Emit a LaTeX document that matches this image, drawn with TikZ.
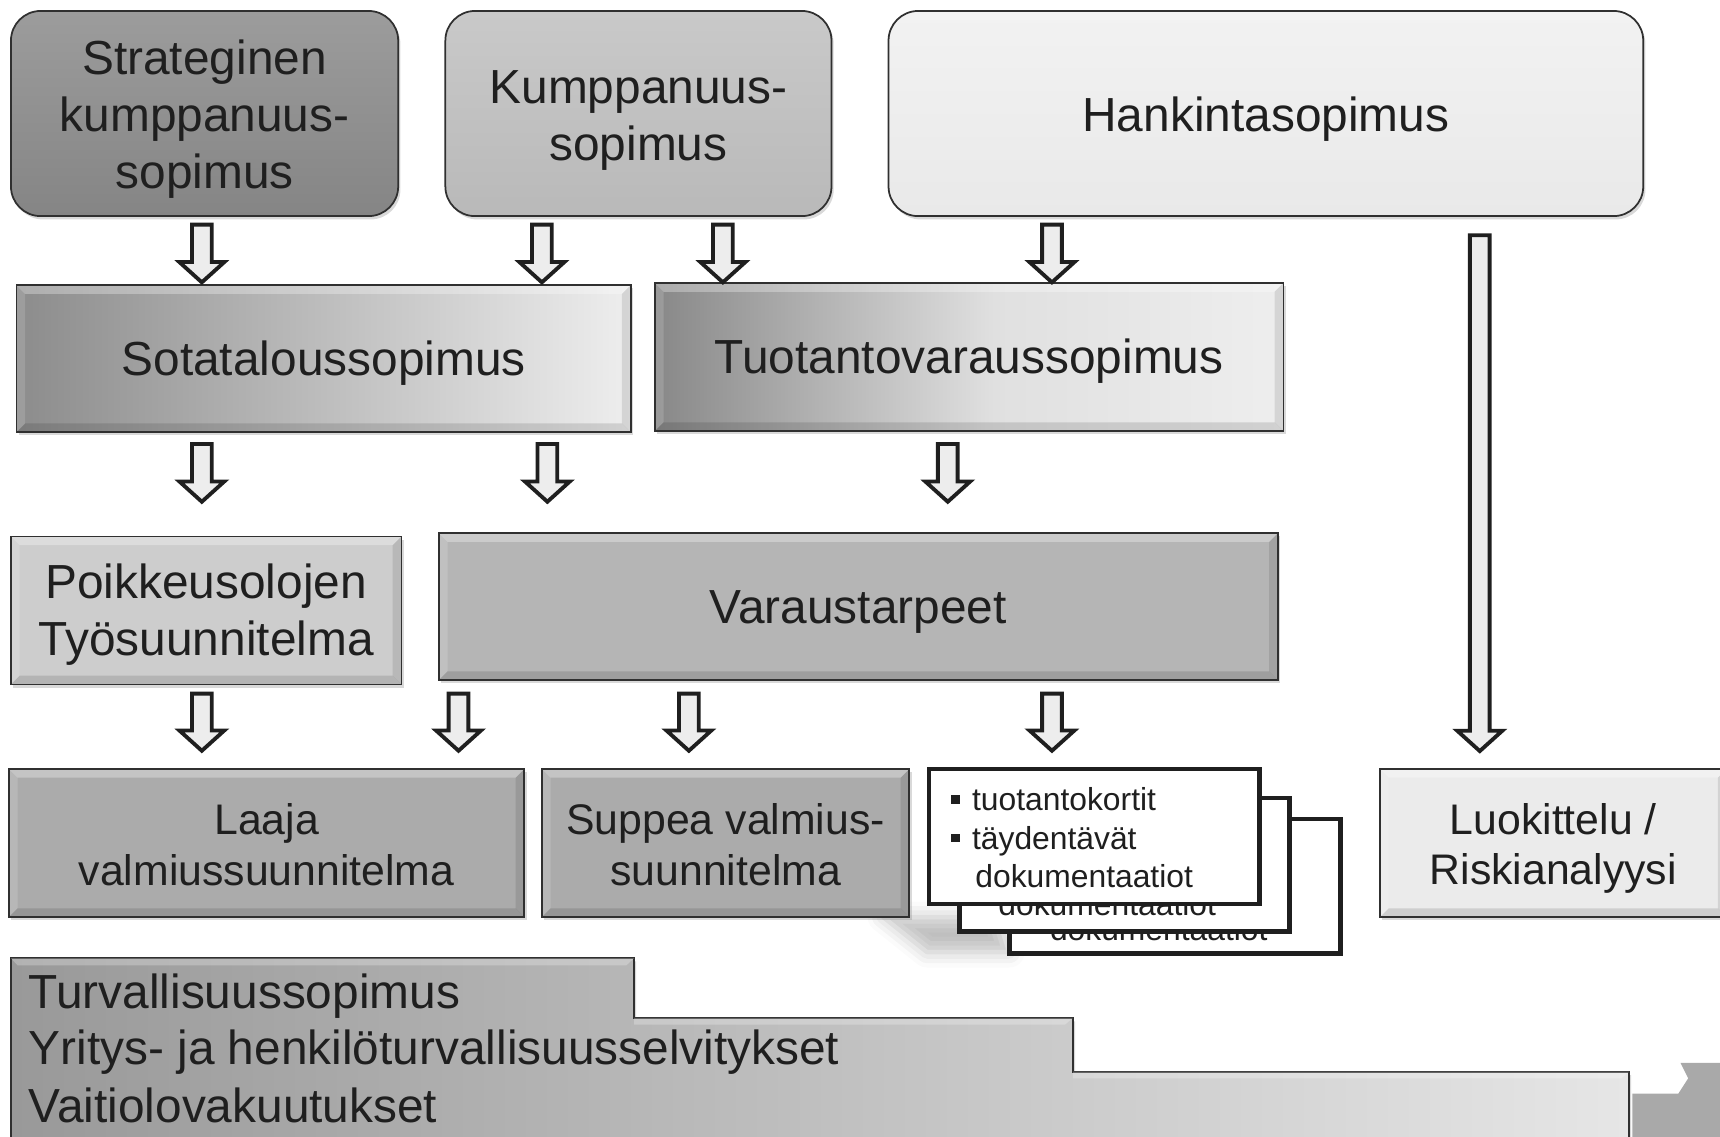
\documentclass[tikz,border=0pt]{standalone}
\usepackage{fontspec}
\setmainfont{Liberation Sans}
\usetikzlibrary{shadows,shadows.blur}
\definecolor{ink}{HTML}{1F1F1F}
\definecolor{edge}{HTML}{303030}
\definecolor{sA}{HTML}{9C9C9C}
\definecolor{sB}{HTML}{858585}
\definecolor{kA}{HTML}{C9C9C9}
\definecolor{kB}{HTML}{B9B9B9}
\definecolor{hA}{HTML}{F2F2F2}
\definecolor{hB}{HTML}{E9E9E9}
\definecolor{soL}{HTML}{8C8C8C}
\definecolor{soR}{HTML}{EEEEEE}
\definecolor{tA}{HTML}{888888}
\definecolor{tB}{HTML}{E0E0E0}
\definecolor{tC}{HTML}{EEEEEE}
\definecolor{poikC}{HTML}{CDCDCD}
\definecolor{varaC}{HTML}{B5B5B5}
\definecolor{lowC}{HTML}{ABABAB}
\definecolor{luokC}{HTML}{EBEBEB}
\definecolor{stepL}{HTML}{999999}
\definecolor{stepR}{HTML}{E6E6E6}
\definecolor{chev}{HTML}{A9A9A9}
\definecolor{arrowfill}{HTML}{EDEDED}
\pgfdeclarehorizontalshading{tuosh}{100bp}{color(0bp)=(tA); color(25bp)=(tA); color(52bp)=(tB); color(75bp)=(tC); color(100bp)=(tC)}
\newcommand\barrow[6]{%
  \draw[blockarrow] ({#1-#4},#2) -- ({#1+#4},#2) -- ({#1+#4},{#3-#6}) -- ({#1+#5},{#3-#6})
    -- (#1,#3) -- ({#1-#5},{#3-#6}) -- ({#1-#4},{#3-#6}) -- cycle;}
\begin{document}
\begin{tikzpicture}[x=1pt,y=-1pt,
  box/.style={draw=edge, line width=1.6pt, inner sep=0pt,
     drop shadow={shadow xshift=2pt, shadow yshift=-3pt, opacity=0.3}},
  rbox/.style={box, rounded corners=27pt},
  bevel/.style={path picture={
     \coordinate (pNW) at (path picture bounding box.north west);
     \coordinate (pNE) at (path picture bounding box.north east);
     \coordinate (pSW) at (path picture bounding box.south west);
     \coordinate (pSE) at (path picture bounding box.south east);
     \fill[white,opacity=0.30] (pNW) -- (pNE) -- ([xshift=-8pt,yshift=-8pt]pNE) -- ([xshift=8pt,yshift=-8pt]pNW) -- cycle;
     \fill[white,opacity=0.15] (pNW) -- ([xshift=8pt,yshift=-8pt]pNW) -- ([xshift=8pt,yshift=8pt]pSW) -- (pSW) -- cycle;
     \fill[black,opacity=0.10] (pNE) -- ([xshift=-8pt,yshift=-8pt]pNE) -- ([xshift=-8pt,yshift=8pt]pSE) -- (pSE) -- cycle;
     \fill[black,opacity=0.12] (pSW) -- ([xshift=8pt,yshift=8pt]pSW) -- ([xshift=-8pt,yshift=8pt]pSE) -- (pSE) -- cycle;}},
  big/.style={font=\fontsize{43.6}{52}\selectfont, text=ink, align=center, inner sep=0pt},
  mid/.style={font=\fontsize{39}{46}\selectfont, text=ink, align=center, inner sep=0pt},
  small/.style={font=\fontsize{29}{35}\selectfont, text=ink, inner sep=0pt},
  blockarrow/.style={draw=black!88, fill=arrowfill, line width=3.5pt, miter limit=20},
  card/.style={draw=black!88, fill=white, line width=4.3pt, inner sep=0pt},
  steptext/.style={font=\fontsize{43.6}{52}\selectfont, text=ink, inner sep=0pt, anchor=base west},
]
\useasboundingbox (0,0) rectangle (1568,1036);
\clip (0,0) rectangle (1568,1036);

% top row
\node[rbox, minimum width=353pt, minimum height=187pt, top color=sA, bottom color=sB]
  (strat) at (186.5,103.5) {};
\node[big] (strat-t) at ([yshift=-5pt]strat.center) {Strateginen\\kumppanuus-\\sopimus};
\node[rbox, minimum width=352pt, minimum height=187pt, top color=kA, bottom color=kB]
  (kump) at (582,103.5) {};
\node[big] (kump-t) at ([yshift=-6pt]kump.center) {Kumppanuus-\\sopimus};
\node[rbox, minimum width=688pt, minimum height=187pt, top color=hA, bottom color=hB]
  (hank) at (1154,103.5) {};
\node[big] (hank-t) at ([yshift=-5pt]hank.center) {Hankintasopimus};

% second row
\node[box, bevel, minimum width=560pt, minimum height=134pt, left color=soL, right color=soR]
  (sota) at (295,327) {};
\node[big] (sota-t) at ([yshift=-4pt]sota.center) {Sotataloussopimus};
\node[box, bevel, minimum width=573pt, minimum height=135pt, shading=tuosh]
  (tuot) at (883.5,325.5) {};
\node[big] (tuot-t) at ([yshift=-4pt]tuot.center) {Tuotantovaraussopimus};

% third row
\node[box, bevel, minimum width=356pt, minimum height=135pt, fill=poikC]
  (poik) at (188,556.5) {};
\node[big] (poik-t) at ([yshift=-4pt]poik.center) {Poikkeusolojen\\Työsuunnitelma};
\node[box, bevel, minimum width=765pt, minimum height=134pt, fill=varaC]
  (vara) at (782.5,553) {};
\node[big] (vara-t) at ([yshift=-5pt]vara.center) {Varaustarpeet};

% soft shadow of the card stack
\path[blur shadow={shadow xshift=0pt, shadow yshift=0pt, shadow blur radius=14pt, shadow opacity=25}]
  (805,836) -- (910,836) -- (920,868) -- (845,868) -- cycle;

% fourth row
\node[box, bevel, minimum width=470pt, minimum height=135pt, fill=lowC]
  (laaja) at (243,768.5) {};
\node[mid] (laaja-t) at ([yshift=-1.5pt]laaja.center) {Laaja\\valmiussuunnitelma};
\node[box, bevel, minimum width=335pt, minimum height=135pt, fill=lowC]
  (suppea) at (661.5,768.5) {};
\node[mid] (suppea-t) at ([yshift=-1.5pt]suppea.center) {Suppea valmius-\\suunnitelma};
\node[box, bevel, minimum width=316pt, minimum height=135pt, fill=luokC]
  (luok) at (1416,768.5) {};
\node[mid] (luok-t) at ([yshift=-5pt]luok.center) {Luokittelu /\\Riskianalyysi};

% stacked document cards
\node[card, minimum width=302pt, minimum height=123pt] (card3) at (1071,808) {};
\node[small, anchor=base west] (c3t) at (957,857) {dokumentaatiot};
\node[card, minimum width=300.5pt, minimum height=121.5pt] (card2) at (1025.25,788.25) {};
\node[small, anchor=base west] (c2t) at (910,835) {dokumentaatiot};
\node[card, minimum width=301pt, minimum height=123pt] (card1) at (997.5,762.5) {};
\node[small, anchor=base west] (c1a) at (867,739) {\raisebox{6pt}{\rule{8pt}{8pt}}\hspace{11pt}tuotantokortit};
\node[small, anchor=base west] (c1b) at (867,774) {\raisebox{6pt}{\rule{8pt}{8pt}}\hspace{11pt}täydentävät};
\node[small, anchor=base west] (c1c) at (889,809) {dokumentaatiot};

% bottom stepped band
\fill[chev] (1532,969) -- (1572,969) -- (1572,1040) -- (1488,1040) -- (1488,997) -- (1530,997) -- (1539,983) -- cycle;
\path[draw=edge, line width=1.6pt, left color=stepL, right color=stepR,
      drop shadow={shadow xshift=2pt, shadow yshift=-3pt, opacity=0.3}]
  (10,873.5) -- (578,873.5) -- (578,928) -- (978,928) -- (978,977) -- (1485,977) -- (1485,1045) -- (10,1045) -- cycle;
\fill[white,opacity=0.25] (10,873.5) -- (578,873.5) -- (571,880) -- (16,880) -- cycle;
\fill[white,opacity=0.25] (578,928) -- (978,928) -- (971,934) -- (578,934) -- cycle;
\fill[white,opacity=0.25] (978,977) -- (1485,977) -- (1478,983) -- (978,983) -- cycle;
\node[steptext] (t1) at (26,919) {Turvallisuussopimus};
\node[steptext] (t2) at (26,970) {Yritys- ja henkilöturvallisuusselvitykset};
\node[steptext] (t3) at (26,1023) {Vaitiolovakuutukset};

% block arrows
\barrow{184}{204.8}{257.4}{9}{20.5}{18.5}
\barrow{494}{204.8}{257.4}{9}{20.5}{18.5}
\barrow{659}{204.8}{257.4}{9}{20.5}{18.5}
\barrow{959}{204.8}{257.4}{9}{20.5}{18.5}
\barrow{184}{404.8}{457.4}{9}{20.5}{18.5}
\barrow{499}{404.8}{457.4}{9}{20.5}{18.5}
\barrow{864}{404.8}{457.4}{9}{20.5}{18.5}
\barrow{184}{632.3}{684.4}{9}{20.5}{18.5}
\barrow{418}{632.3}{684.4}{9}{20.5}{18.5}
\barrow{628}{632.3}{684.4}{9}{20.5}{18.5}
\barrow{959}{632.3}{684.4}{9}{20.5}{18.5}
\barrow{1349}{214.5}{684.7}{9}{20.5}{18.5}
\end{tikzpicture}
\end{document}
